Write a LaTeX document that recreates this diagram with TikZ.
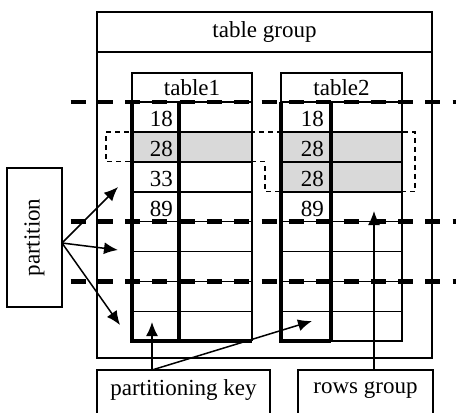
\documentclass[tikz,border=0pt]{standalone}
\usepackage{fontspec}
\setmainfont{Liberation Serif}
\usetikzlibrary{arrows.meta}

\begin{document}
\begin{tikzpicture}[x=1pt,y=-1pt,
  every node/.style={font=\fontsize{23}{27}\selectfont,inner sep=0pt},
  box/.style={draw,line width=1.6pt,outer sep=0pt},
  cell/.style={line width=1.6pt},
  keycol/.style={line width=3.8pt},
  cut/.style={line width=4.5pt,dash pattern=on 15pt off 12.3pt},
  rowsel/.style={line width=1.3pt,dash pattern=on 5pt off 4pt},
  arr/.style={line width=1.5pt,-{Latex[length=14pt,width=12pt]}}]

  \clip (0,0) rectangle (456,413);

  % Table group frame
  \node[box,anchor=north west,minimum width=335pt,minimum height=40pt] (grp) at (97,12) {table group};
  \draw[box] (grp.south west) rectangle (432,358);

  % Shaded rows
  \fill[gray!30] (132,131.9) rectangle (252,161.8);
  \fill[gray!30] (281,131.9) rectangle (402,191.7);

  % Tables
  \foreach \t/\xa/\xb/\xc/\xe in {1/132/179/252/252, 2/281/331/402/331} {
    \draw[box] (\xa,73) rectangle (\xc,102);
    \node (h\t) at ({(\xa+\xc)/2},88) {table\t};
    \foreach \k in {1,...,7}
      \draw[cell] (\xa,{102+29.9*\k}) -- (\xc,{102+29.9*\k});
    \draw[cell] (\xc,102) -- (\xc,341.2) -- (\xe,341.2);
    \draw[keycol] (\xa,102) -- (\xa,341.2) -- (\xe,341.2);
    \draw[keycol] (\xb,102) -- (\xb,341.2);
  }

  % Key values
  \foreach \t/\x/\k/\v in {1/173/0/18, 1/173/1/28, 1/173/2/33, 1/173/3/89,
                            2/324/0/18, 2/324/1/28, 2/324/2/28, 2/324/3/89}
    \node[anchor=base east] (v\t\k) at (\x,{102+29.9*(\k+1)-5}) {\v};

  % Partition boundaries
  \foreach \k in {0,4,6}
    \draw[cut] (70.5,{102+29.9*\k}) -- (456,{102+29.9*\k});

  % Rows group outline
  \draw[rowsel] (106,131.9) -- (415,131.9) -- (415,191.7) -- (265,191.7)
    -- (265,161.8) -- (106,161.8) -- cycle;

  % Labels
  \node[box,rotate=90,minimum width=139pt,minimum height=55pt] (part) at (34.5,237.5) {partition};
  \node[box,anchor=north,minimum width=173pt,minimum height=50pt,text depth=14pt] (pkey) at (183.5,370) {partitioning key};
  \node[box,anchor=north,minimum width=135pt,minimum height=50pt,text depth=14pt] (rgrp) at (365.5,370) {rows group};

  % Arrows
  \coordinate (pfrom) at (62,243);
  \foreach \n/\x/\y in {1/118/187, 2/118/250, 3/120/325} {
    \coordinate (pt\n) at (\x,\y);
    \draw[arr] (pfrom) -- (pt\n);
  }
  \coordinate (kfrom) at (152,370);
  \coordinate (key1) at (152,322);
  \coordinate (key2) at (312,321);
  \draw[arr] (kfrom) -- (key1);
  \draw[arr] (kfrom) -- (key2);
  \coordinate (gfrom) at (374,370);
  \coordinate (gto) at (374,211);
  \draw[arr] (gfrom) -- (gto);
\end{tikzpicture}
\end{document}
